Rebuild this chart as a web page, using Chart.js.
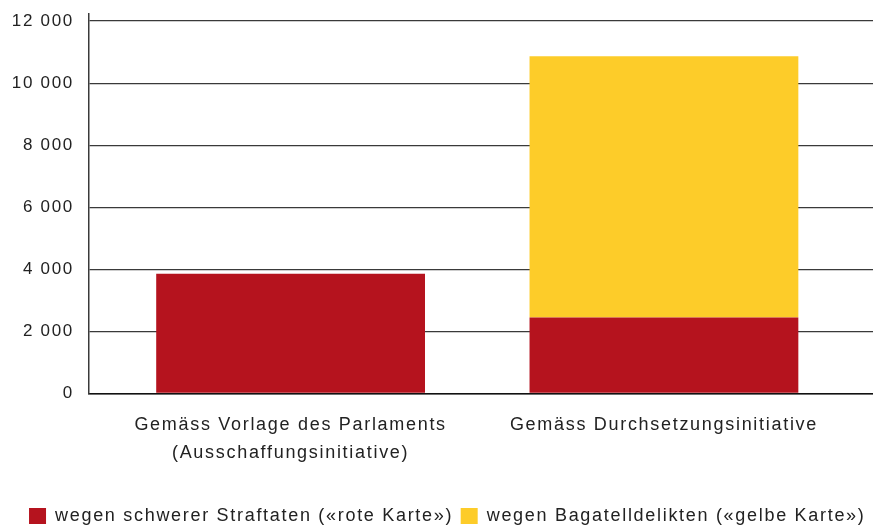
<!DOCTYPE html>
<html>
<head>
<meta charset="utf-8">
<script src="https://cdn.jsdelivr.net/npm/chart.js@4"></script>
<style>
  html, body { margin: 0; padding: 0; background: #ffffff; }
  #wrap { width: 873px; height: 525px; position: relative; }
</style>
</head>
<body>
<div id="wrap"><canvas id="c"></canvas></div>
<script>
// ---- data ----
const categories = [
  ["Gemäss Vorlage des Parlaments", "(Ausschaffungsinitiative)"],
  ["Gemäss Durchsetzungsinitiative"]
];
const categoryPositions = [0, 1];
const seriesNames = [
  "wegen schwerer Straftaten («rote Karte»)",
  "wegen Bagatelldelikten («gelbe Karte»)"
];
const schwereStraftaten = [3860, 2450];
const bagatelldelikte = [0, 8420];
const yTicks = [0, 2000, 4000, 6000, 8000, 10000, 12000];
const yTickLabels = ["0", "2 000", "4 000", "6 000", "8 000", "10 000", "12 000"];

const RED = "#b5131e";
const YELLOW = "#fdcc29";
const TEXT = "#222222";

const spacingPlugin = {
  id: "letterSpacing",
  beforeUpdate(chart) { chart.ctx.letterSpacing = "1.7px"; },
  beforeLayout(chart) { chart.ctx.letterSpacing = "1.7px"; },
  beforeDraw(chart) { chart.ctx.letterSpacing = "1.7px"; }
};

new Chart(document.getElementById("c"), {
  type: "bar",
  data: {
    datasets: [
      {
        label: seriesNames[0],
        data: categoryPositions.map((x, i) => ({ x: x, y: schwereStraftaten[i] })),
        backgroundColor: RED,
        borderWidth: 0
      },
      {
        label: seriesNames[1],
        data: categoryPositions.map((x, i) => ({ x: x, y: bagatelldelikte[i] })),
        backgroundColor: YELLOW,
        borderWidth: 0
      }
    ]
  },
  plugins: [spacingPlugin],
  options: {
    responsive: true,
    maintainAspectRatio: false,
    animation: false,
    layout: { padding: { left: 0, right: 0, top: 14, bottom: -10 } },
    plugins: {
      tooltip: { enabled: false },
      legend: {
        position: "bottom",
        align: "end",
        labels: {
          boxWidth: 17,
          boxHeight: 16,
          padding: 7.5,
          color: TEXT,
          font: { family: "'Liberation Sans', Arial, sans-serif", size: 18 }
        }
      }
    },
    scales: {
      x: {
        type: "linear",
        stacked: true,
        offset: false,
        min: -0.54,
        max: 1.56,
        afterBuildTicks(scale) {
          scale.ticks = categoryPositions.map(v => ({ value: v }));
        },
        afterFit(scale) {
          scale.height = 106;
          scale.paddingLeft = 0;
          scale.paddingRight = 0;
        },
        grid: { display: false, drawTicks: false, offset: false },
        border: { display: true, color: "#111111", width: 1.6 },
        ticks: {
          padding: 18,
          color: TEXT,
          maxRotation: 0,
          autoSkip: false,
          font: { family: "'Liberation Sans', Arial, sans-serif", size: 18, lineHeight: "28px" },
          callback: (v) => categories[categoryPositions.indexOf(v)]
        }
      },
      y: {
        stacked: true,
        min: 0,
        max: 12230,
        afterBuildTicks(scale) {
          scale.ticks = yTicks.map(v => ({ value: v }));
        },
        afterFit(scale) {
          scale.width = 89;
          scale.paddingTop = 0;
          scale.paddingBottom = 0;
        },
        grid: { color: "#3a3a3a", lineWidth: 1.3, drawTicks: false },
        border: { display: true, color: "#3a3a3a", width: 1.5 },
        ticks: {
          padding: 15,
          color: TEXT,
          font: { family: "'Liberation Sans', Arial, sans-serif", size: 17 },
          callback: (v) => yTickLabels[yTicks.indexOf(v)]
        }
      }
    }
  }
});
</script>
</body>
</html>
